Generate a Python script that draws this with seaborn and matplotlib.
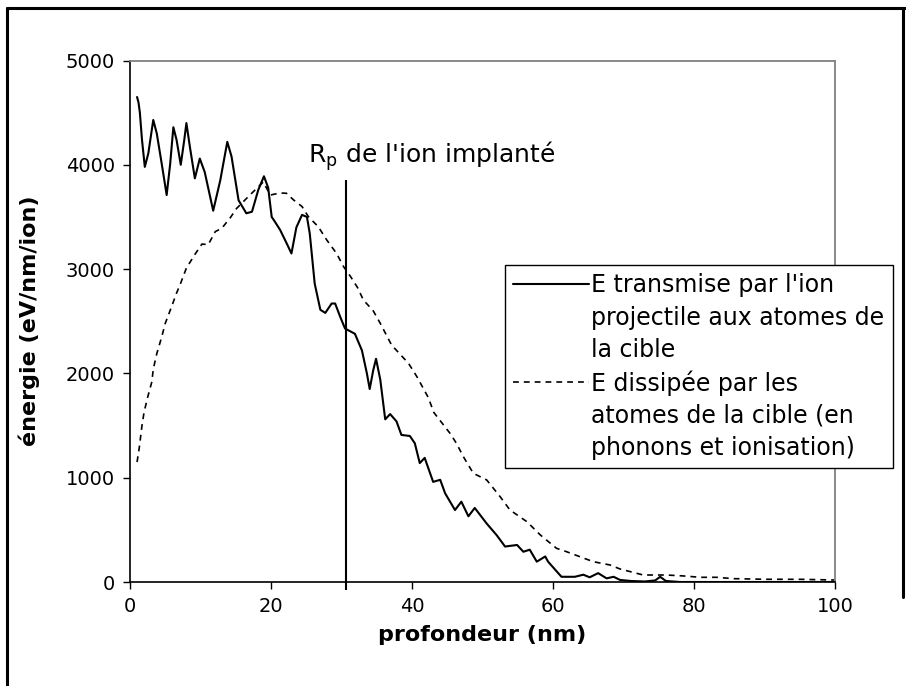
import numpy as np
import pandas as pd
import matplotlib
matplotlib.use("Agg")
import matplotlib.pyplot as plt
from matplotlib.lines import Line2D
import seaborn as sns

# depth (nm) / energy (eV/nm/ion)
solid_x = [1.0, 1.2, 1.4, 1.7, 2.1, 2.6, 3.3, 3.8, 4.5, 5.2, 5.7, 6.15, 6.6, 7.2, 7.7,
           8.0, 8.5, 9.2, 9.9, 10.6, 11.8, 12.8, 13.8, 14.4, 15.4, 16.5, 17.3, 18.2,
           19.0, 19.6, 20.1, 20.5, 21.3, 22.2, 22.9, 23.6, 24.4, 25.1, 25.5, 26.2, 27.0,
           27.7, 28.6, 29.1, 29.8, 30.5, 31.9, 32.9, 33.6, 34.0, 34.5, 34.9, 35.5, 36.2,
           36.9, 37.8, 38.5, 39.7, 40.4, 41.1, 41.8, 43.0, 44.0, 44.7, 46.1, 47.0, 48.0,
           48.9, 50.6, 52.0, 53.2, 54.9, 55.8, 56.7, 57.7, 58.9, 59.3, 61.2, 63.1, 64.3,
           65.2, 66.4, 67.6, 68.6, 69.5, 71.0, 73.0, 74.5, 75.2, 76.0, 78.0, 85.0, 100.0]
solid_y = [4650, 4600, 4500, 4240, 3980, 4110, 4430, 4300, 4010, 3710, 4010, 4360, 4240,
           4000, 4240, 4400, 4170, 3870, 4060, 3930, 3560, 3850, 4220, 4080, 3660, 3535,
           3550, 3760, 3890, 3780, 3500, 3460, 3375, 3250, 3150, 3400, 3520, 3500, 3340,
           2860, 2610, 2580, 2670, 2670, 2545, 2430, 2380, 2220, 2000, 1850, 2030, 2140,
           1940, 1560, 1610, 1540, 1410, 1400, 1330, 1140, 1190, 960, 980, 850, 690, 770,
           630, 710, 560, 450, 340, 355, 290, 310, 195, 245, 195, 50, 50, 70, 45, 85, 35,
           50, 20, 10, 5, 15, 50, 10, 0, 0, 0]

dash_x = [1.0, 1.3, 1.5, 1.7, 2.0, 2.5, 3.1, 3.3, 3.8, 4.5, 5.0, 5.9, 6.6, 7.1, 8.0, 9.2,
          10.2, 11.1, 12.1, 13.0, 14.2, 15.1, 17.0, 18.9, 19.9, 21.3, 22.2, 23.2, 24.4,
          25.3, 26.7, 27.9, 29.3, 30.3, 31.3, 32.3, 33.1, 34.5, 35.5, 37.1, 39.5, 40.7,
          42.3, 43.1, 45.4, 46.3, 47.3, 48.7, 50.6, 52.5, 53.9, 56.3, 58.2, 60.5, 61.9,
          63.8, 65.7, 68.1, 69.5, 72.8, 76.1, 78.5, 80.9, 83.2, 85.6, 90.3, 95.0, 100.0]
dash_y = [1150, 1280, 1390, 1500, 1630, 1770, 1920, 2040, 2190, 2350, 2480, 2640, 2770,
          2850, 3010, 3140, 3240, 3235, 3360, 3390, 3490, 3580, 3710, 3835, 3710, 3730,
          3727, 3663, 3600, 3503, 3407, 3280, 3150, 3023, 2927, 2820, 2704, 2600, 2480,
          2272, 2097, 1968, 1770, 1625, 1425, 1330, 1200, 1042, 978, 818, 690, 578, 451,
          323, 291, 243, 195, 163, 125, 67, 67, 58, 45, 45, 32, 26, 26, 19]

rp_depth = 30.6
rp_top = 3850
rp_bottom = -80

solid_label = ["E transmise par l'ion", "projectile aux atomes de", "la cible"]
dash_label = ["E dissipée par les", "atomes de la cible (en", "phonons et ionisation)"]

sns.set_style("white")
plt.rcParams['font.family'] = ['DejaVu Sans']
plt.rcParams['text.color'] = 'black'
plt.rcParams['axes.labelcolor'] = 'black'
plt.rcParams['xtick.color'] = 'black'
plt.rcParams['ytick.color'] = 'black'

fig = plt.figure(figsize=(9.06, 6.86), dpi=100)
ax = fig.add_axes([130 / 906, 1 - 582 / 686, 705 / 906, 521.5 / 686])

dash_style = (0, (3.5, 3))

df_solid = pd.DataFrame({'x': solid_x, 'y': solid_y})
df_dash = pd.DataFrame({'x': dash_x, 'y': dash_y})
sns.lineplot(data=df_solid, x='x', y='y', ax=ax, color='black', lw=1.5,
             sort=False, estimator=None)
sns.lineplot(data=df_dash, x='x', y='y', ax=ax, color='black', lw=1.2,
             linestyle=dash_style, sort=False, estimator=None)

ax.vlines(rp_depth, rp_bottom, rp_top, color='black', lw=1.5, clip_on=False)
ax.text(25.3, 4020, r"R$_\mathregular{p}$ de l'ion implanté", fontsize=18, va='baseline')

ax.set_xlim(0, 100)
ax.set_ylim(0, 5000)
ax.set_xticks(np.arange(0, 101, 20))
ax.set_yticks(np.arange(0, 5001, 1000))
ax.tick_params(axis='both', which='major', labelsize=14, direction='out',
               length=5, width=1, color='black', labelcolor='black',
               left=True, bottom=True, pad=6)
for s in ['top', 'right']:
    ax.spines[s].set_color('#808080')
    ax.spines[s].set_linewidth(1.3)
for s in ['left', 'bottom']:
    ax.spines[s].set_color('black')
    ax.spines[s].set_linewidth(1.2)

ax.set_xlabel('profondeur (nm)', fontsize=16, fontweight='bold', labelpad=6, color='black')
ax.set_ylabel('énergie (eV/nm/ion)', fontsize=16, fontweight='bold', labelpad=18, color='black')

# legend: handle on the first line of each entry
blank = Line2D([], [], color='none')
h_solid = Line2D([], [], color='black', lw=1.5)
h_dash = Line2D([], [], color='black', lw=1.2, linestyle=dash_style)
handles = [h_solid, blank, blank, h_dash, blank, blank]
labels = solid_label + dash_label
leg = fig.legend(handles, labels, loc='upper left', bbox_to_anchor=(505 / 906, 1 - 265 / 686),
                 fontsize=17, frameon=True, fancybox=False, framealpha=1,
                 edgecolor='black', handlelength=3.2, handletextpad=0.1,
                 labelspacing=0.35, borderpad=0.35, borderaxespad=0)
leg.get_frame().set_linewidth(1.0)
for t in leg.get_texts():
    t.set_color('black')

# outer chart frame
fig.add_artist(Line2D([7 / 906, 7 / 906], [0, 1 - 8 / 686], color='black', lw=2.2,
                      transform=fig.transFigure))
fig.add_artist(Line2D([7 / 906, 1], [1 - 8 / 686, 1 - 8 / 686], color='black', lw=2.2,
                      transform=fig.transFigure))
fig.add_artist(Line2D([903 / 906, 903 / 906], [1 - 8 / 686, 1 - 597 / 686], color='black',
                      lw=2.2, transform=fig.transFigure))

fig.savefig('out.png', dpi=100)
